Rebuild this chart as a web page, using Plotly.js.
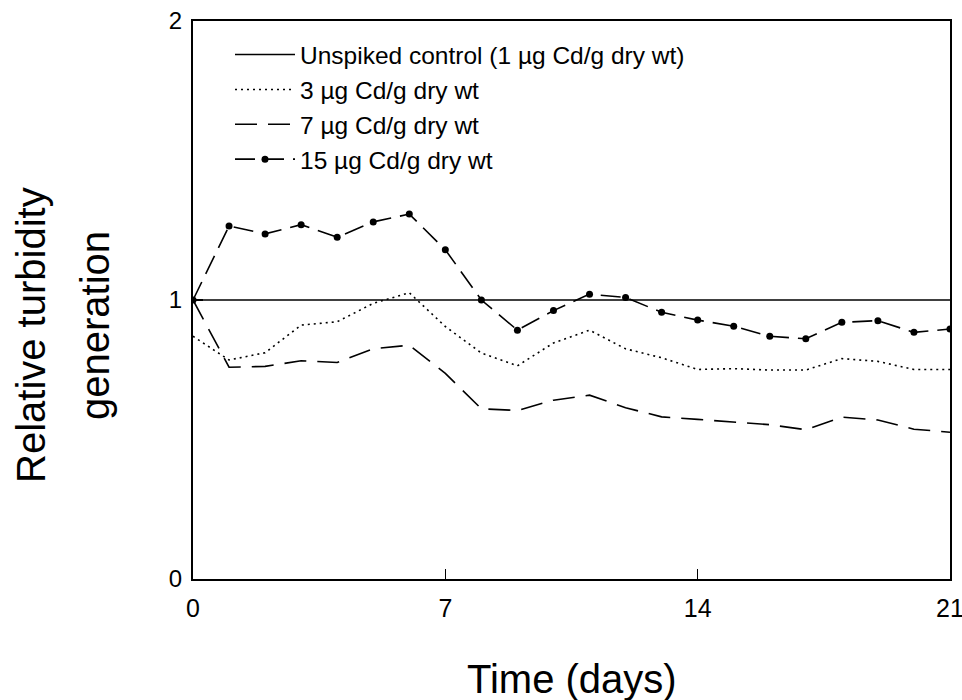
<!DOCTYPE html>
<html>
<head>
<meta charset="utf-8">
<script src="https://cdn.plot.ly/plotly-3.0.1.min.js"></script>
<style>
html, body { margin: 0; padding: 0; background: #fff; }
#chart { width: 962px; height: 700px; }
</style>
</head>
<body>
<div id="chart"></div>
<script>
// Time (days)
var days = [0, 1, 2, 3, 4, 5, 6, 7, 8, 9, 10, 11, 12, 13, 14, 15, 16, 17, 18, 19, 20, 21];
// Series names
var seriesNames = [
  "Unspiked control (1 µg Cd/g dry wt)",
  "3 µg Cd/g dry wt",
  "7 µg Cd/g dry wt",
  "15 µg Cd/g dry wt"
];
// Relative turbidity generation
var control = [1, 1, 1, 1, 1, 1, 1, 1, 1, 1, 1, 1, 1, 1, 1, 1, 1, 1, 1, 1, 1, 1];
var cd3 = [0.87, 0.785, 0.811, 0.91, 0.922, 0.988, 1.026, 0.905, 0.81, 0.764, 0.846, 0.892, 0.825, 0.793, 0.751, 0.754, 0.749, 0.749, 0.79, 0.78, 0.751, 0.751];
var cd7 = [1.0, 0.759, 0.762, 0.782, 0.776, 0.825, 0.838, 0.737, 0.61, 0.604, 0.641, 0.659, 0.614, 0.581, 0.572, 0.563, 0.553, 0.535, 0.58, 0.57, 0.537, 0.526];
var cd15 = [1.0, 1.265, 1.237, 1.27, 1.225, 1.28, 1.308, 1.18, 1.0, 0.892, 0.962, 1.021, 1.009, 0.956, 0.928, 0.906, 0.87, 0.861, 0.92, 0.926, 0.884, 0.896];
// Axis ticks
var xTicks = [0, 7, 14, 21];
var yTicks = [0, 1, 2];
var xTitle = "Time (days)";
var yTitle1 = "Relative turbidity";
var yTitle2 = "generation";

var FONT = "Liberation Sans, Arial, Helvetica, sans-serif";

var traces = [
  { x: days, y: control, name: seriesNames[0], mode: "lines",
    line: { color: "#000", width: 1.5 } },
  { x: days, y: cd3, name: seriesNames[1], mode: "lines",
    line: { color: "#000", width: 1.6, dash: "2px,4px" } },
  { x: days, y: cd7, name: seriesNames[2], mode: "lines",
    line: { color: "#000", width: 1.6, dash: "22px,11px" } },
  { x: days, y: cd15, name: seriesNames[3], mode: "lines+markers",
    line: { color: "#000", width: 1.6, dash: "20px,9px" },
    marker: { color: "#000", size: 7, symbol: "circle" } }
];

var layout = {
  width: 962, height: 700,
  margin: { l: 193, r: 12, t: 21, b: 121 },
  paper_bgcolor: "#fff", plot_bgcolor: "#fff",
  showlegend: true,
  legend: {
    x: (230 - 193) / 757, y: 0.98, xanchor: "left", yanchor: "top",
    bgcolor: "rgba(0,0,0,0)", borderwidth: 0,
    font: { family: FONT, size: 24.5, color: "#000" },
    itemwidth: 60, tracegroupgap: 0
  },
  xaxis: {
    range: [0, 21], tickvals: xTicks, ticktext: xTicks.map(String),
    ticks: "inside", ticklen: 10, tickwidth: 1.5, tickcolor: "#000",
    showline: true, linecolor: "#000", linewidth: 2, mirror: true,
    showgrid: false, zeroline: false,
    tickfont: { family: FONT, size: 25, color: "#000" },
    ticklabelstandoff: 6, ticklabeloverflow: "allow"
  },
  yaxis: {
    range: [0, 2], tickvals: yTicks, ticktext: yTicks.map(String),
    ticks: "inside", ticklen: 10, tickwidth: 1.5, tickcolor: "#000",
    showline: true, linecolor: "#000", linewidth: 2, mirror: true,
    showgrid: false, zeroline: false,
    tickfont: { family: FONT, size: 24, color: "#000" },
    ticklabelstandoff: 4, ticklabeloverflow: "allow"
  },
  annotations: [
    { text: xTitle, xref: "paper", yref: "paper", x: 0.5, y: -0.179,
      xanchor: "center", yanchor: "middle", showarrow: false,
      font: { family: FONT, size: 40, color: "#000" } },
    { text: yTitle1, xref: "paper", yref: "paper", x: (31 - 193) / 757, y: (579 - 335) / 558,
      xanchor: "center", yanchor: "middle", showarrow: false, textangle: -90,
      font: { family: FONT, size: 40, color: "#000" } },
    { text: yTitle2, xref: "paper", yref: "paper", x: (95 - 193) / 757, y: (579 - 326) / 558,
      xanchor: "center", yanchor: "middle", showarrow: false, textangle: -90,
      font: { family: FONT, size: 40, color: "#000" } }
  ]
};

Plotly.newPlot("chart", traces, layout, { displayModeBar: false, staticPlot: true });
</script>
</body>
</html>
